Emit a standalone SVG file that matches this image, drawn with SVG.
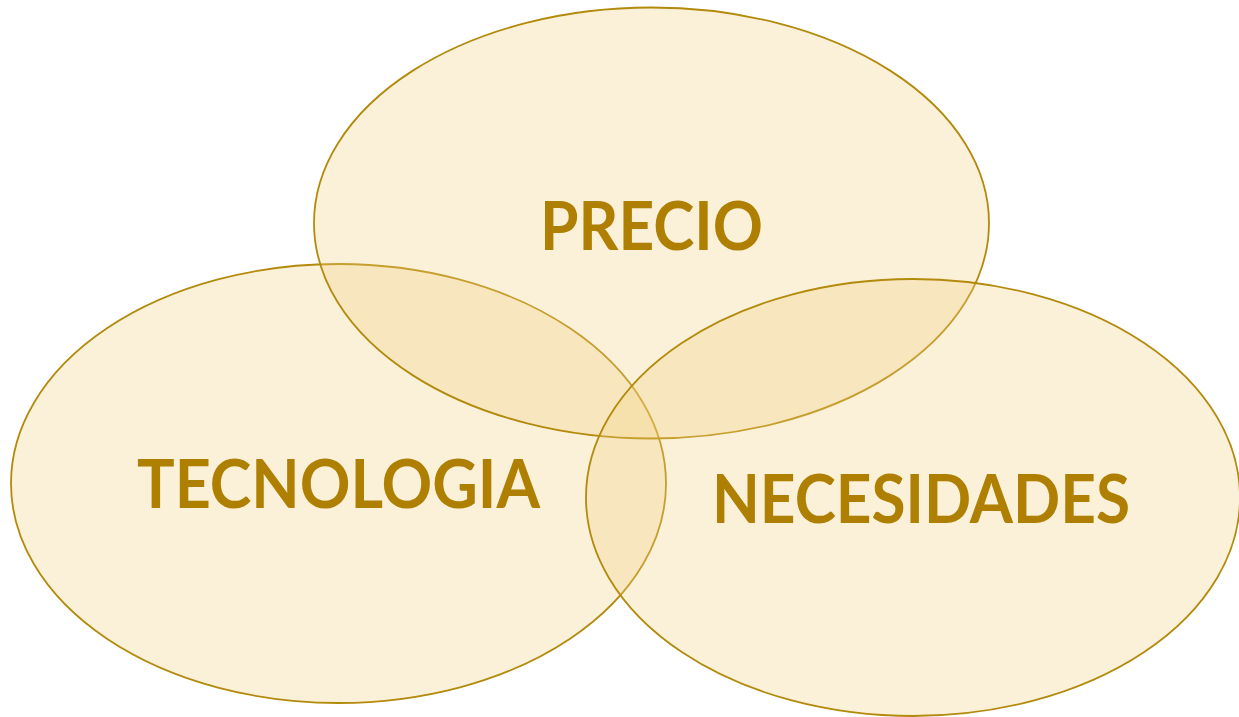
<svg xmlns="http://www.w3.org/2000/svg" width="1239" height="717" viewBox="0 0 1239 717">
<style>
.c{fill:#F2D282;fill-opacity:0.3;stroke:#B38A0C;stroke-width:1.8}
.t{font-family:Lato,"Liberation Sans","DejaVu Sans",sans-serif;font-weight:bold;font-size:67px;fill:#AE7F00}
</style>
<rect width="1239" height="717" fill="#FFFFFF"/>
<g id="tecnologia">
<ellipse class="c" cx="338.5" cy="483.5" rx="327.5" ry="219.5"/>
<text class="t" x="137" y="508" textLength="403" lengthAdjust="spacingAndGlyphs">TECNOLOGIA</text>
</g>
<g id="precio">
<ellipse class="c" cx="651.5" cy="223" rx="337.5" ry="215.5"/>
<text class="t" x="540" y="250" textLength="223" lengthAdjust="spacingAndGlyphs">PRECIO</text>
</g>
<g id="necesidades">
<ellipse class="c" cx="913" cy="497.5" rx="327" ry="218.5"/>
<text class="t" x="712" y="523" textLength="418" lengthAdjust="spacingAndGlyphs">NECESIDADES</text>
</g>
<g id="connectors"/>
</svg>
